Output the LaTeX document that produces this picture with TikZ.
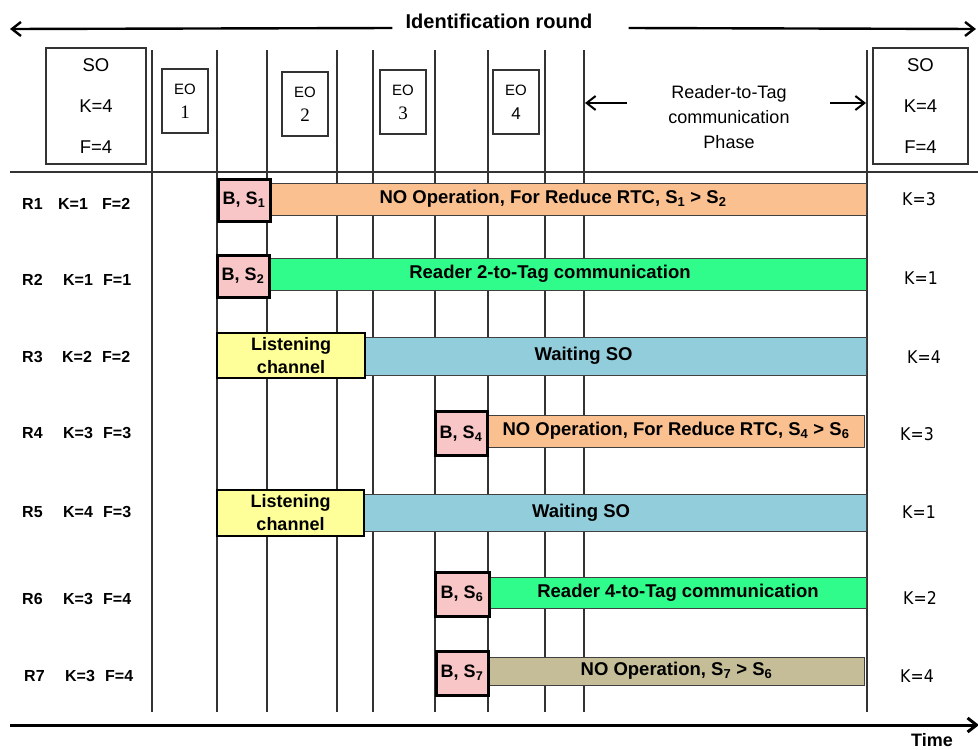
\documentclass[tikz,border=0pt]{standalone}
\usepackage{fontspec}
\setmainfont{Liberation Sans}
\newfontfamily\numfont{Liberation Serif}
\newfontfamily\kfont[FakeStretch=0.9]{DejaVu Sans}
\usetikzlibrary{arrows.meta, positioning}
\definecolor{slotpink}{HTML}{F8C6C6}
\definecolor{nooporange}{HTML}{FAC090}
\definecolor{rtcgreen}{HTML}{30FC8C}
\definecolor{waitblue}{HTML}{92CDDC}
\definecolor{listenyellow}{HTML}{FFFF99}
\definecolor{idletan}{HTML}{C4BD97}

\begin{document}
\begin{tikzpicture}[x=1pt, y=-1pt,
    grid/.style = {draw=black!80, line width=1.3pt},
    arr/.style = {draw=black, line width=2.4pt, -{Straight Barb[length=9pt, width=14pt]}},
    sobox/.style = {draw=black!80, line width=1.2pt, minimum width=100pt, minimum height=116pt, align=center, font=\fontsize{18.5}{41}\selectfont},
    eobox/.style = {draw=black!80, line width=1.2pt, minimum width=46pt, minimum height=64pt, align=center, font=\fontsize{15}{24}\selectfont},
    bar/.style = {draw=black!75, line width=1pt, inner sep=0pt, font=\fontsize{18.5}{22}\selectfont\bfseries},
    slot/.style = {draw=black, line width=3pt, fill=slotpink, inner sep=0pt, minimum width=52pt, minimum height=42pt, font=\fontsize{18}{22}\selectfont\bfseries},
    listen/.style = {bar, draw=black, line width=1.8pt, fill=listenyellow, align=center, minimum width=148pt, minimum height=45pt, font=\fontsize{18}{23}\selectfont\bfseries},
    rowlbl/.style = {anchor=base west, inner sep=0pt, font=\fontsize{16}{18}\selectfont\bfseries},
    klbl/.style = {inner sep=0pt, font=\kfont\fontsize{17.5}{20}\selectfont}
]
\useasboundingbox (0,0) rectangle (978,750);

% Header
\node (idr) [anchor=base, inner sep=0pt, font=\fontsize{20}{24}\selectfont\bfseries] at (499,28) {Identification round};
\coordinate (idL) at (10,29);
\coordinate (idR) at (976,29);
\draw [arr] ([xshift=-13pt]idr.base west) -- (idL);
\draw [arr] ([xshift=36pt]idr.base east) -- (idR);

% Time slots
\draw [grid] (10,172) -- (978,172);
\foreach \x in {152,217,267,337,373,435,488,545,584,867}
    \draw [grid] (\x,50) -- (\x,712);

\node (soL) [sobox] at (96,106) {SO\\K=4\\F=4};
\node (soR) [sobox, minimum width=95pt] at (920.5,106) {SO\\K=4\\F=4};
\node (eo1) [eobox] at (185,101) {EO\\{\numfont\fontsize{19}{24}\selectfont 1}};
\node (eo2) [eobox] at (305,104) {EO\\{\numfont\fontsize{19}{24}\selectfont 2}};
\node (eo3) [eobox] at (403,102) {EO\\{\numfont\fontsize{19}{24}\selectfont 3}};
\node (eo4) [eobox] at (516,102) {EO\\{\fontsize{17}{24}\selectfont 4}};

\node (rtt) [align=center, font=\fontsize{18}{25}\selectfont] at (729,117) {Reader-to-Tag\\communication\\Phase};
\coordinate (rttL0) at (627,103);
\coordinate (rttL) at (585,103);
\coordinate (rttR0) at (830,103);
\coordinate (rttR) at (866,103);
\draw [arr, line width=2pt] (rttL0) -- (rttL);
\draw [arr, line width=2pt] (rttR0) -- (rttR);

% R1
\node (r1) [rowlbl] at (22,209) {\makebox[36pt][l]{R1}\makebox[44pt][l]{K=1}F=2};
\node (b1) [bar, fill=nooporange, minimum width=596pt, minimum height=32pt] at (568,199) {NO Operation, For Reduce RTC, S\textsubscript{1} > S\textsubscript{2}\kern30pt};
\node (s1) [slot] at (244,200) {B, S\textsubscript{1}};
\node (k1) [klbl] at (919,199) {K=3};

% R2
\node (r2) [rowlbl] at (22,285.5) {\makebox[41pt][l]{R2}\makebox[40pt][l]{K=1}F=1};
\node (b2) [bar, fill=rtcgreen, minimum width=596pt, minimum height=32pt] at (568,274) {Reader 2-to-Tag communication\kern36pt};
\node (s2) [slot] at (243,276) {B, S\textsubscript{2}};
\node (k2) [klbl] at (921,278) {K=1};

% R3
\node (r3) [rowlbl] at (22,362) {\makebox[40pt][l]{R3}\makebox[40pt][l]{K=2}F=2};
\node (w3) [bar, fill=waitblue, minimum width=501pt, minimum height=38pt] at (615.5,356) {Waiting SO\kern64pt};
\node (l3) [listen] at (291,355.5) {Listening\\channel};
\node (k3) [klbl] at (924,357) {K=4};

% R4
\node (r4) [rowlbl] at (22,438) {\makebox[41pt][l]{R4}\makebox[40pt][l]{K=3}F=3};
\node (b4) [bar, fill=nooporange, minimum width=376pt, minimum height=32pt] at (676,431) {NO Operation, For Reduce RTC, S\textsubscript{4} > S\textsubscript{6}};
\node (s4) [slot, minimum height=44pt] at (461,433.5) {B, S\textsubscript{4}};
\node (k4) [klbl] at (917,434) {K=3};

% R5
\node (r5) [rowlbl] at (22,517) {\makebox[41pt][l]{R5}\makebox[40pt][l]{K=4}F=3};
\node (w5) [bar, fill=waitblue, minimum width=502pt, minimum height=37pt] at (615,512.5) {Waiting SO\kern68pt};
\node (l5) [listen, minimum width=147pt, minimum height=46pt] at (290.5,513) {Listening\\channel};
\node (k5) [klbl] at (919,512) {K=1};

% R6
\node (r6) [rowlbl] at (22,604) {\makebox[41pt][l]{R6}\makebox[40pt][l]{K=3}F=4};
\node (b6) [bar, fill=rtcgreen, minimum width=376pt, minimum height=31pt] at (678,592.5) {Reader 4-to-Tag communication};
\node (s6) [slot, minimum width=54pt, minimum height=44pt] at (462,594) {B, S\textsubscript{6}};
\node (k6) [klbl] at (920,598) {K=2};

% R7
\node (r7) [rowlbl] at (24,681) {\makebox[41pt][l]{R7}\makebox[40pt][l]{K=3}F=4};
\node (b7) [bar, fill=idletan, minimum width=375pt, minimum height=28pt] at (676.5,671) {NO Operation, S\textsubscript{7} > S\textsubscript{6}};
\node (s7) [slot, minimum height=44pt] at (462,673) {B, S\textsubscript{7}};
\node (k7) [klbl] at (917,676) {K=4};

% Time axis
\coordinate (tL) at (10,725);
\coordinate (tR) at (979,725);
\draw [arr, line width=3pt] (tL) -- (tR);
\node (time) [anchor=base, inner sep=0pt, font=\fontsize{18}{22}\selectfont\bfseries] at (932,746) {Time};

\end{tikzpicture}
\end{document}
